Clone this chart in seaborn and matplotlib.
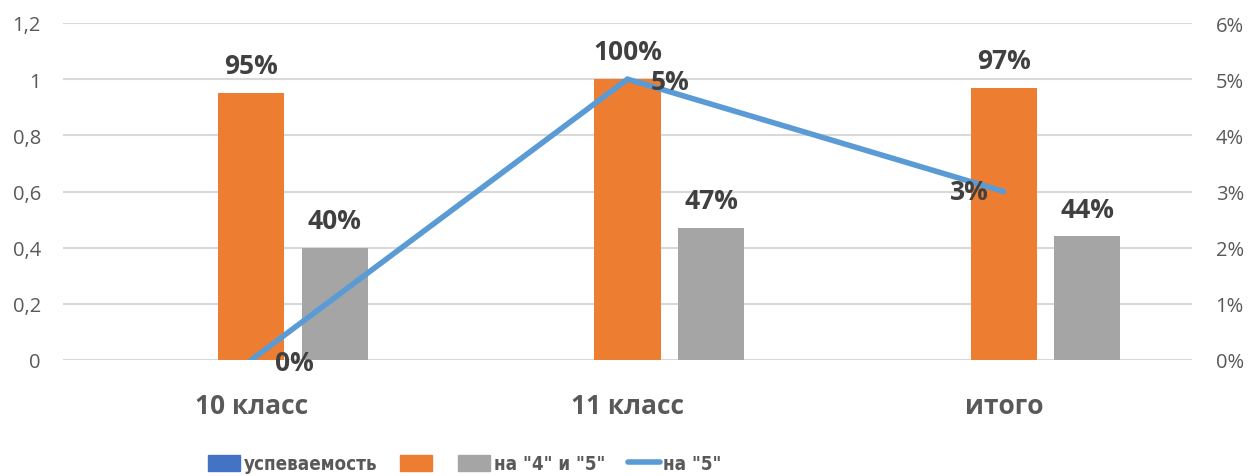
import numpy as np
import pandas as pd
import seaborn as sns
import matplotlib
matplotlib.use("Agg")
import matplotlib.pyplot as plt
from matplotlib.patches import Patch
from matplotlib.lines import Line2D
from matplotlib import font_manager as fm

categories = ["10 класс", "11 класс", "итого"]
series_names = ["успеваемость", " ", 'на "4" и "5"']
uspev = [0.0, 0.0, 0.0]
orange_vals = [0.95, 1.00, 0.97]
gray_vals = [0.40, 0.47, 0.44]
top5 = [0.00, 0.05, 0.03]
line_name = 'на "5"'
left_ticks = [0, 0.2, 0.4, 0.6, 0.8, 1.0, 1.2]
left_tick_labels = ["0", "0,2", "0,4", "0,6", "0,8", "1", "1,2"]
right_ticks = [0, 0.01, 0.02, 0.03, 0.04, 0.05, 0.06]
right_tick_labels = ["0%", "1%", "2%", "3%", "4%", "5%", "6%"]

colors = ["#4472C4", "#ED7D31", "#A5A5A5"]
line_color = "#5B9BD5"
label_color = "#404040"
tick_color = "#595959"

sns.set_theme(style="white")
plt.rcParams["font.family"] = ["Open Sans", "DejaVu Sans"]

df = pd.DataFrame({
    "cat": categories * 3,
    "series": [series_names[0]] * 3 + [series_names[1]] * 3 + [series_names[2]] * 3,
    "val": uspev + orange_vals + gray_vals,
})

fig = plt.figure(figsize=(12.49, 4.77), dpi=100)
ax = fig.add_axes([63 / 1249, 116 / 477, (1192 - 63) / 1249, 337 / 477])

sns.barplot(data=df, x="cat", y="val", hue="series", order=categories,
            hue_order=series_names, palette=colors, width=0.666, gap=0.21,
            saturation=1, ax=ax, errorbar=None, legend=False, linewidth=0)

ax.set_ylim(0, 1.2)
ax.set_yticks(left_ticks)
ax.set_yticklabels(left_tick_labels, color=tick_color, fontsize=14.5)
ax.set_xlabel("")
ax.set_ylabel("")
ax.grid(axis="y", color="#D9D9D9", linewidth=1.5)
ax.set_axisbelow(True)
for s in ax.spines.values():
    s.set_visible(False)
ax.tick_params(axis="both", length=0)
ax.tick_params(axis="y", pad=16)
ax.tick_params(axis="x", pad=23)
for t in ax.get_xticklabels():
    t.set_fontsize(19)
    t.set_fontweight("bold")
    t.set_color(tick_color)

# bar labels
for cont, vals in zip(ax.containers[1:], [orange_vals, gray_vals]):
    ax.bar_label(cont, labels=[f"{v * 100:.0f}%" for v in vals], padding=10,
                 fontsize=19, fontweight="bold", color=label_color)

ax2 = ax.twinx()
xpos = np.arange(len(categories))
sns.lineplot(x=xpos, y=top5, ax=ax2, color=line_color, linewidth=4,
             solid_capstyle="round", solid_joinstyle="miter")
ax2.set_ylim(0, 0.06)
ax2.set_yticks(right_ticks)
ax2.set_yticklabels(right_tick_labels, color=tick_color, fontsize=14.5)
ax2.tick_params(axis="y", length=0, pad=17)
for s in ax2.spines.values():
    s.set_visible(False)
ax2.set_ylabel("")
ax.set_xlim(-0.5, len(categories) - 0.5)

offsets = [(31, -2), (31, -2), (-25, 0)]
for x, v, off in zip(xpos, top5, offsets):
    ax2.annotate(f"{v * 100:.0f}%", (x, v), xytext=off, textcoords="offset points",
                 ha="center", va="center", fontsize=19, fontweight="bold",
                 color=label_color)

handles = [Patch(color=colors[0]), Patch(color=colors[1]), Patch(color=colors[2]),
           Line2D([0], [0], color=line_color, linewidth=4, solid_capstyle="round")]
labels = [series_names[0], "", series_names[2], line_name]
legend_font = fm.FontProperties(family=["DejaVu Sans"], weight="bold",
                                stretch="condensed", size=13.5)
fig.legend(handles, labels, loc="center", bbox_to_anchor=(465 / 1249, 12 / 477), ncol=4,
           frameon=False, handlelength=1.7, handleheight=0.95, handletextpad=0.2,
           columnspacing=1.2, prop=legend_font, labelcolor=tick_color)

fig.savefig("out.png", dpi=100)
